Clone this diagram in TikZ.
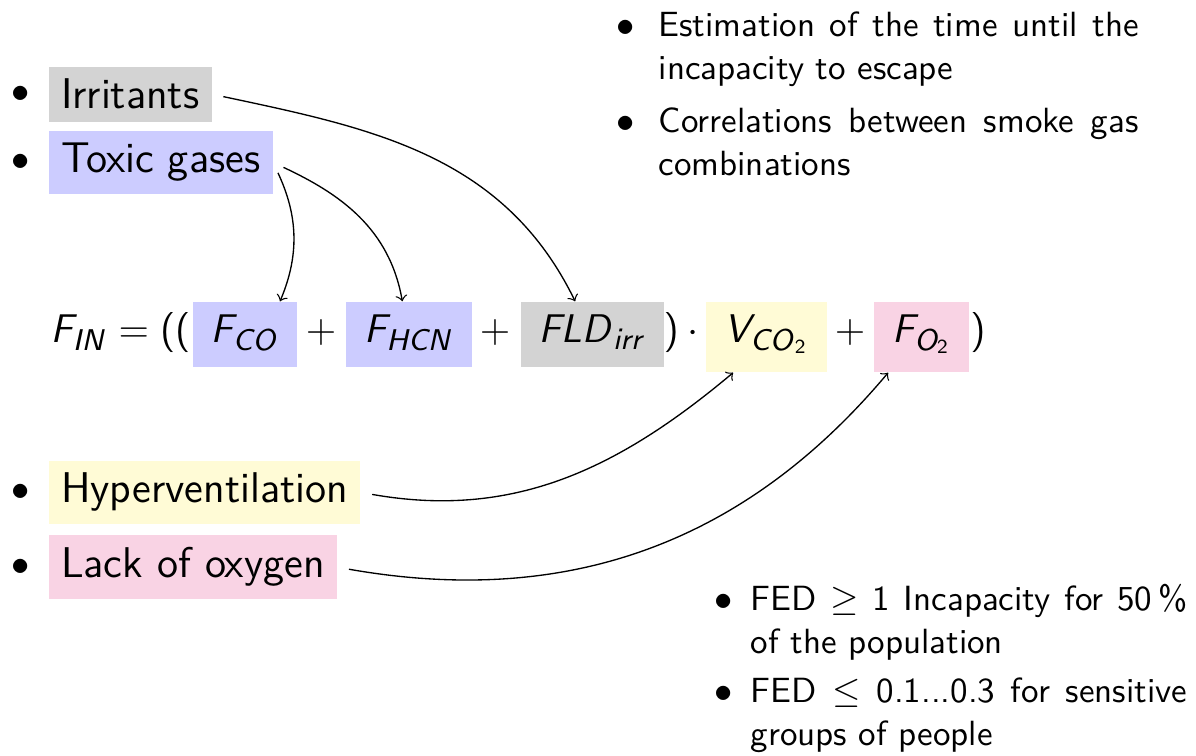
\documentclass[tikz,border=0pt]{standalone}
\usepackage{tikz}
\renewcommand{\familydefault}{\sfdefault}
\DeclareSymbolFont{operators}{OT1}{cmss}{m}{n}
\DeclareMathAlphabet{\mathsfsl}{OT1}{cmss}{m}{sl}
\newcommand{\dotmark}{{\fontsize{11}{11}\selectfont$\bullet$}}

\definecolor{irrgray}{RGB}{211,211,211}
\definecolor{toxblue}{RGB}{204,204,255}
\definecolor{hypyellow}{RGB}{255,251,214}
\definecolor{oxypink}{RGB}{249,211,228}

\begin{document}
\begin{tikzpicture}[x=0.3pt,y=0.3pt,
  gasbox/.style={font=\fontsize{12.9}{15}\selectfont, inner sep=3.7pt, anchor=base west,
    label={[label distance=5.2pt, inner sep=0pt]left:\dotmark}},
  notetext/.style={font=\fontsize{10.5}{12.8}\selectfont, inner sep=0pt, anchor=base west, align=justify},
  eqbox/.style={font=\fontsize{12.6}{15}\selectfont, inner xsep=5.4pt, inner ysep=0pt,
    text height=12.3pt, text depth=7.2pt, anchor=base},
  eqtxt/.style={font=\fontsize{12.6}{15}\selectfont, inner sep=0pt, anchor=base},
  link/.style={->, shorten <=3.4pt}]

\useasboundingbox (0,0) rectangle (1196,756);

\node[notetext, text width=144pt] (est) at (658,719)
  {\llap{\dotmark\hspace{7.15pt}}Estimation of the time until the\linebreak incapacity to escape};
\node[notetext, text width=144pt] (corr) at (658,623)
  {\llap{\dotmark\hspace{7.15pt}}Correlations between smoke gas\linebreak combinations};

\node[gasbox, fill=irrgray] (irr) at (48,647) {Irritants};
\node[gasbox, fill=toxblue] (tox) at (48,583) {Toxic gases};

\node[eqtxt, anchor=base west] (fin) at (50,413) {$\mathsfsl{F}_{\mathsfsl{IN}} = (($};
\node[eqbox, fill=toxblue] (fco) at (245,413) {$\mathsfsl{F}_{\mathsfsl{CO}}$};
\node[eqtxt] (plusa) at (321,413) {$+$};
\node[eqbox, fill=toxblue] (fhcn) at (409,413) {$\mathsfsl{F}_{\mathsfsl{HCN}}$};
\node[eqtxt] (plusb) at (495,413) {$+$};
\node[eqbox, fill=irrgray] (fld) at (592.5,413) {$\mathsfsl{FLD}_{\mathsfsl{irr}}$};
\node[eqtxt, anchor=base west] (dot) at (663,413) {$)\cdot{}$};
\node[eqbox, fill=hypyellow, text depth=8.7pt] (vco) at (766.5,413) {$\mathsfsl{V}_{\mathsfsl{CO}_2}$};
\node[eqtxt] (plusc) at (850,413) {$+$};
\node[eqbox, fill=oxypink, text depth=8.7pt] (fo) at (921.5,413) {$\mathsfsl{F}_{\mathsfsl{O}_2}$};
\node[eqtxt] (close) at (978,413) {$)$};

\node[gasbox, fill=hypyellow] (hyp) at (48,253) {Hyperventilation};
\node[gasbox, fill=oxypink] (lack) at (48,178) {Lack of oxygen};

\node[notetext, text width=131pt] (fedhi) at (750,145)
  {\llap{\dotmark\hspace{5.35pt}}FED $\geq$ 1 Incapacity for 50\,\%\linebreak of the population};
\node[notetext, text width=131pt] (fedlo) at (750,53)
  {\llap{\dotmark\hspace{5.35pt}}FED $\leq$ 0.1...0.3 for sensitive\linebreak groups of people};

\draw[link] (irr.east) to[out=-12,in=116] ([xshift=-5.2pt]fld.north);
\draw[link] (tox.east) to[out=-65,in=67] ([xshift=-5.4pt]fco.north east);
\draw[link] (tox.east) to[out=-25,in=100] ([xshift=-2pt]fhcn.north);
\draw[link] (hyp.east) to[out=-10,in=220] ([xshift=-10pt]vco.south);
\draw[link] (lack.east) to[out=-10,in=230] ([xshift=-10pt]fo.south);

\end{tikzpicture}
\end{document}
